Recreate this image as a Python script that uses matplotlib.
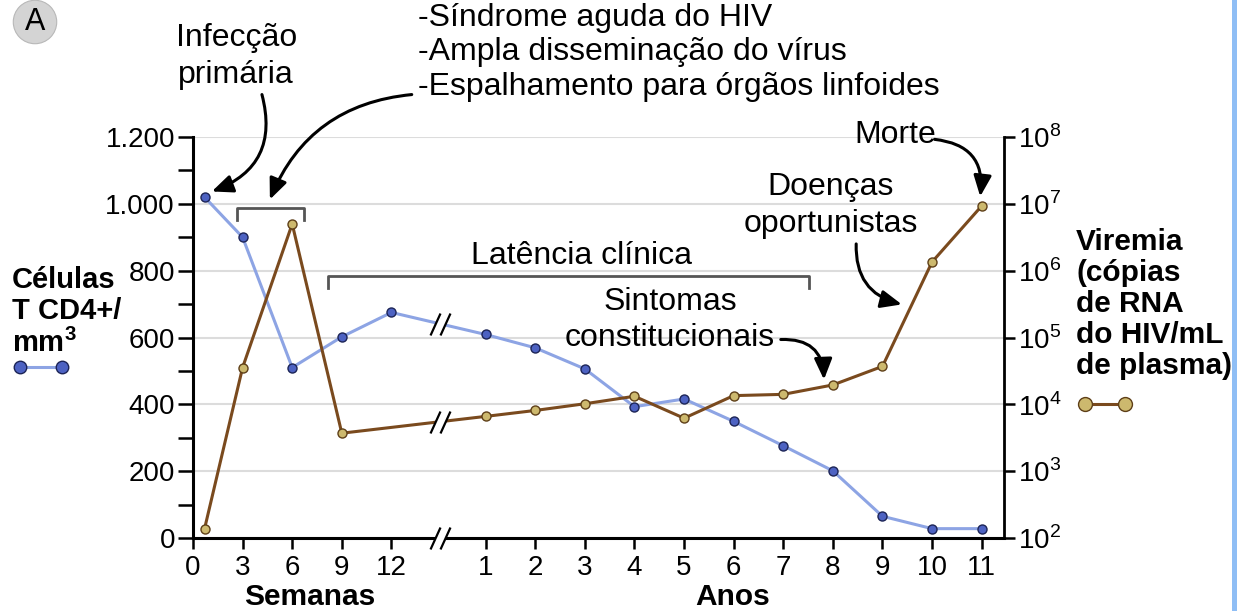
import numpy as np
import matplotlib
matplotlib.use("Agg")
import matplotlib.pyplot as plt
from matplotlib.lines import Line2D
from matplotlib.patches import Rectangle
from matplotlib.path import Path

plt.rcParams["font.family"] = ["Liberation Sans", "DejaVu Sans"]
plt.rcParams["mathtext.fontset"] = "custom"
plt.rcParams["mathtext.rm"] = "Liberation Sans"
plt.rcParams["mathtext.bf"] = "Liberation Sans:bold"

# eixo x: semanas (0-12) e depois anos (1-11)
week_ticks = [0, 3, 6, 9, 12]
year_ticks = list(range(1, 12))

cd4_weeks = [0.7, 3, 6, 9, 12]
cd4_week_vals = [1020, 900, 510, 602, 675]
cd4_years = list(range(1, 12))
cd4_year_vals = [609, 569, 506, 393, 416, 349, 276, 201, 65, 28, 28]

vir_weeks = [0.7, 3, 6, 9]
vir_week_vals = [138, 35500, 5.0e6, 3700]
vir_years = list(range(1, 12))
vir_year_vals = [6600, 8100, 10200, 13200, 6200, 13500, 14100, 19500,
                 37000, 1.35e6, 9.3e6]

left_ticks = [0, 200, 400, 600, 800, 1000, 1200]
left_labels = ["0", "200", "400", "600", "800", "1.000", "1.200"]
right_ticks = [1e2, 1e3, 1e4, 1e5, 1e6, 1e7, 1e8]
right_labels = [r"$10^{%d}$" % k for k in range(2, 9)]

BREAK = 4.98


def week_pos(w):
    return np.asarray(w, dtype=float) / 3.0


def year_pos(y):
    return 4.9 + np.asarray(y, dtype=float)


BLUE_LINE = "#8da4e4"
BLUE_FACE = "#4d62c2"
BLUE_EDGE = "#1c2456"
BROWN_LINE = "#7a4a1e"
BROWN_FACE = "#cdb96e"
BROWN_EDGE = "#5e3f18"

fig = plt.figure(figsize=(12.37, 6.11), dpi=100)
ax = fig.add_axes([193 / 1237, 73 / 611, 811 / 1237, 401 / 611])
ax.set_xlim(0, 16.35)
ax.set_ylim(0, 1200)

ax2 = ax.twinx()
ax2.set_yscale("log")
ax2.set_ylim(1e2, 1e8)

cd4_x = np.concatenate([week_pos(cd4_weeks), year_pos(cd4_years)])
cd4_y = np.array(cd4_week_vals + cd4_year_vals, dtype=float)
vir_x = np.concatenate([week_pos(vir_weeks), year_pos(vir_years)])
vir_y = np.array(vir_week_vals + vir_year_vals, dtype=float)

ax.plot(cd4_x, cd4_y, color=BLUE_LINE, lw=2.2, marker="o", ms=6.5,
        mfc=BLUE_FACE, mec=BLUE_EDGE, mew=1.0, zorder=4, clip_on=False)
ax2.plot(vir_x, vir_y, color=BROWN_LINE, lw=2.2, marker="o", ms=6.5,
         mfc=BROWN_FACE, mec=BROWN_EDGE, mew=1.0, zorder=4, clip_on=False)

# marcas de quebra "//"
slash = Path([(-10, -11), (0, 11), (0, -11), (10, 11)],
             [Path.MOVETO, Path.LINETO, Path.MOVETO, Path.LINETO])
gap = Path([(-10, -11), (0, 11), (10, 11), (0, -11), (-10, -11)],
           [Path.MOVETO, Path.LINETO, Path.LINETO, Path.LINETO, Path.CLOSEPOLY])


def draw_break(axis, x, y, transform=None):
    kw = dict(transform=transform) if transform is not None else {}
    axis.plot([x], [y], marker=gap, ms=15.8, mfc="white", mec="none",
              ls="none", zorder=6, clip_on=False, **kw)
    axis.plot([x], [y], marker=slash, ms=15.8, mec="black", mew=1.6,
              ls="none", zorder=7, clip_on=False, **kw)


draw_break(ax, BREAK, np.interp(BREAK, cd4_x, cd4_y))
draw_break(ax2, BREAK, 10 ** np.interp(BREAK, vir_x, np.log10(vir_y)))
draw_break(ax, BREAK, 0, transform=ax.get_xaxis_transform())

# eixos
for a in (ax, ax2):
    a.spines["top"].set_visible(False)
ax.spines["right"].set_visible(False)
ax2.spines["left"].set_visible(False)
ax2.spines["bottom"].set_visible(False)
ax.spines["left"].set_linewidth(2.2)
ax.spines["bottom"].set_linewidth(2.2)
ax2.spines["right"].set_linewidth(2.0)

xt = list(week_pos(week_ticks)) + list(year_pos(year_ticks))
xl = [str(w) for w in week_ticks] + [str(y) for y in year_ticks]
ax.set_xticks(xt)
ax.set_xticklabels(xl, fontsize=20)
ax.tick_params(axis="x", length=8, width=1.8, pad=4)

ax.set_yticks(left_ticks)
ax.set_yticklabels(left_labels, fontsize=20)
ax.set_yticks(np.arange(100, 1200, 200), minor=True)
ax.tick_params(axis="y", which="both", length=11, width=1.8, pad=2)

ax2.set_yticks(right_ticks)
ax2.set_yticklabels(right_labels, fontsize=20)
ax2.yaxis.set_minor_locator(matplotlib.ticker.NullLocator())
ax2.tick_params(axis="y", length=8, width=1.8, pad=2)

ax.set_axisbelow(True)
ax.grid(axis="y", color="#dcdcdc", lw=1.5)
ax.grid(axis="x", visible=False)

# colchetes
ax.plot([0.88, 0.88, 2.24, 2.24], [951, 988, 988, 951], color="#555555",
        lw=2, clip_on=False)
ax.plot([2.73, 2.73, 12.42, 12.42], [749, 783, 783, 749], color="#555555",
        lw=2, clip_on=False)

TXT = 23
ax.text(7.84, 845, "Latência clínica", ha="center", va="center", fontsize=TXT)
ax.text(0.87, 1441, "Infecção\nprimária", ha="center", va="center",
        fontsize=TXT, linespacing=1.28)
ax.text(4.54, 1453, "-Síndrome aguda do HIV\n-Ampla disseminação do vírus\n"
        "-Espalhamento para órgãos linfoides", ha="left", va="center",
        fontsize=TXT, linespacing=1.18)
ax.text(9.62, 653, "Sintomas\nconstitucionais", ha="center", va="center",
        fontsize=TXT, linespacing=1.28)
ax.text(12.85, 995, "Doenças\noportunistas", ha="center", va="center",
        fontsize=TXT, linespacing=1.28)
ax.text(14.15, 1207, "Morte", ha="center", va="center", fontsize=TXT)

arrow_kw = dict(arrowstyle="-|>,head_length=0.7,head_width=0.3",
                color="black", lw=2.2, mutation_scale=18,
                shrinkA=0, shrinkB=0)


def curved_arrow(start, end, rad):
    ax.annotate("", xy=end, xytext=start, annotation_clip=False,
                arrowprops=dict(connectionstyle="arc3,rad=%s" % rad, **arrow_kw))


curved_arrow((1.39, 1327), (0.38, 1037), -0.45)
curved_arrow((4.41, 1327), (1.55, 1013), 0.3)
curved_arrow((11.85, 594), (12.72, 474), -0.5)
curved_arrow((13.37, 880), (14.29, 699), 0.4)
curved_arrow((14.95, 1193), (15.87, 1022), -0.5)

# rótulos dos eixos
fig.text(12 / 1237, 1 - 312 / 611, "Células\nT CD4+/\nmm$^\\mathbf{3}$",
         ha="left", va="center", fontsize=21, fontweight="bold",
         linespacing=1.16)
fig.add_artist(Line2D([20 / 1237, 62 / 1237], [1 - 367 / 611] * 2,
                      color=BLUE_LINE, lw=2.2, marker="o", ms=9,
                      mfc=BLUE_FACE, mec=BLUE_EDGE, mew=1.0))
fig.text(1076 / 1237, 1 - 304 / 611,
         "Viremia\n(cópias\nde RNA\ndo HIV/mL\nde plasma)",
         ha="left", va="center", fontsize=21.5, fontweight="bold",
         linespacing=1.14)
fig.add_artist(Line2D([1085 / 1237, 1125 / 1237], [1 - 404 / 611] * 2,
                      color=BROWN_LINE, lw=2.2, marker="o", ms=10,
                      mfc=BROWN_FACE, mec=BROWN_EDGE, mew=1.0))
fig.text(310 / 1237, 1 - 597 / 611, "Semanas", ha="center", va="center",
         fontsize=21.5, fontweight="bold")
fig.text(733 / 1237, 1 - 597 / 611, "Anos", ha="center", va="center",
         fontsize=21.5, fontweight="bold")

fig.text(35 / 1237, 1 - 22 / 611, "A", ha="center", va="center",
         fontsize=22, bbox=dict(boxstyle="circle,pad=0.22", fc="#d4d4d4",
                                ec="#b8b8b8", lw=0.8))
fig.add_artist(Rectangle((1232 / 1237, 0), 5 / 1237, 1,
                         transform=fig.transFigure, color="#8fbef5", lw=0))

fig.savefig("out.png", dpi=100)
